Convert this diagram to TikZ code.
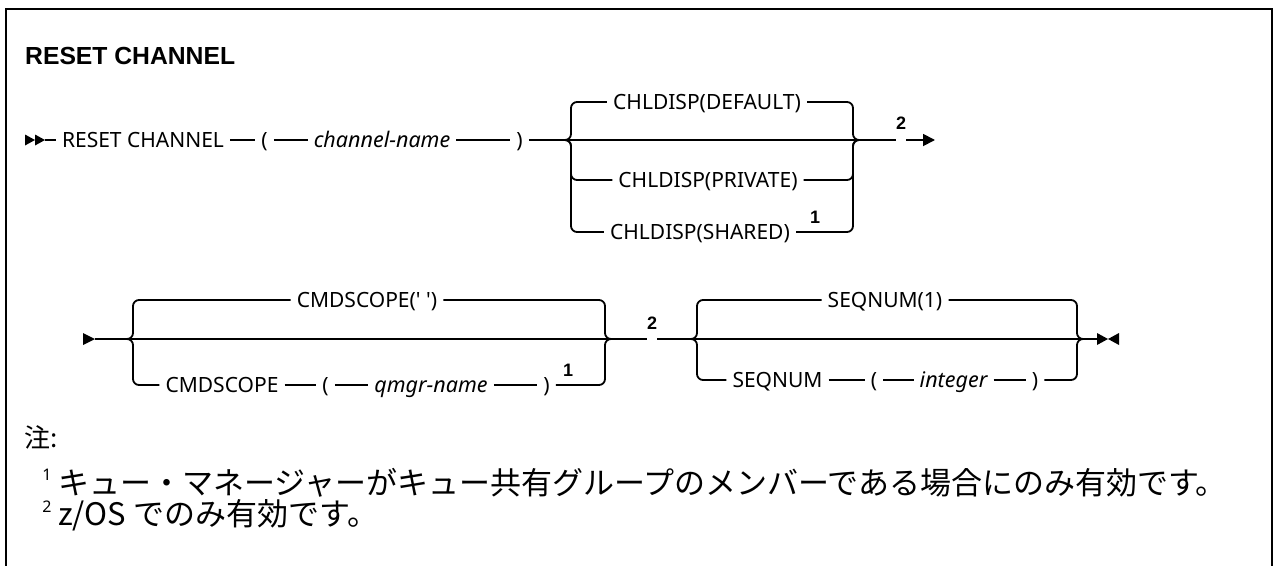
\documentclass[tikz,border=0pt]{standalone}
\usepackage{fontspec}
\setmainfont{Noto Sans}[Ligatures=TeXOff]
\newfontfamily\headfont{Liberation Sans}
\newfontfamily\jpfont{Noto Sans CJK JP}
\usetikzlibrary{arrows.meta,positioning}
\tikzset{
  tok/.style  ={font=\fontsize{21}{25}\selectfont,inner xsep=6pt,inner ysep=0pt,
                text height=15pt,text depth=0pt},
  var/.style  ={tok,font=\fontsize{21.5}{25}\selectfont\itshape},
  fn/.style   ={font=\headfont\bfseries\fontsize{18}{20}\selectfont,inner sep=0pt,
                text height=13pt,text depth=0pt},
  sup/.style  ={font=\fontsize{16}{18}\selectfont,inner sep=0pt,text height=11.5pt,text depth=0pt},
  note/.style ={font=\jpfont\fontsize{31}{34}\selectfont,anchor=west,inner sep=0pt},
  rail/.style ={line width=1.8pt},
  brace/.style={rail,rounded corners=6pt},
  arr/.style  ={rail,-{Triangle[length=12pt,width=12pt]}},
}
\begin{document}
\begin{tikzpicture}[x=1pt,y=-1pt]
  \useasboundingbox (0,0) rectangle (1274,565);
  % frame, open at the bottom
  \draw[line width=2.4pt] (6,575) -- (6,9) -- (1272,9) -- (1272,575);

  \node[font=\headfont\bfseries\fontsize{24.7}{29}\selectfont,anchor=base west,inner sep=0pt]
        (title) at (25,64) {RESET CHANNEL};

  % --- first line ---
  \fill (25,134.5) -- (35,140) -- (25,145.5) -- cycle;
  \fill (35,134.5) -- (45,140) -- (35,145.5) -- cycle;
  \coordinate (st1) at (45,140);
  \node[tok] (rc)  at (143,140)   {RESET CHANNEL};
  \node[tok] (lp1) at (264.5,140) {(};
  \node[var] (chn) at (382,140)   {channel-name};
  \node[tok] (rp1) at (519.5,140) {)};
  \draw[rail] (st1) -- (rc.west);
  \draw[rail] (rc.east) -- (lp1.west);
  \draw[rail] (lp1.east) -- (chn.west);
  \draw[rail] (chn.east) -- (rp1.west);

  \coordinate (b1l) at (565,140);
  \coordinate (b1r) at (862,140);
  \node[tok] (dflt) at (707,102) {CHLDISP(DEFAULT)};
  \node[tok] (priv) at (708,180) {CHLDISP(PRIVATE)};
  \node[tok] (shrd) at (700,232) {CHLDISP(SHARED)};
  \node[fn]  (fs1)  at (815,216.5) {1};
  \draw[rail] (rp1.east) -- (b1r);
  \draw[brace] (b1l) -| (571,102) -- (dflt.west);
  \draw[brace] (b1l) -| (571,180) -- (priv.west);
  \draw[brace] (b1l) -| (571,232) -- (shrd.west);
  \draw[brace] (dflt.east) -| (853,140) -- (b1r);
  \draw[brace] (priv.east) -| (853,140) -- (b1r);
  \draw[brace] (shrd.east) -| (853,140) -- (b1r);

  \node[fn] (fn2a) at (901,123) {2};
  \coordinate (e1) at (935,140);
  \draw[rail] (b1r) -- (b1r -| fn2a.west);
  \draw[arr] (b1r -| fn2a.east) -- (e1);

  % --- second line ---
  \fill (83,333) -- (95,339) -- (83,345) -- cycle;
  \coordinate (st2) at (95,339);
  \coordinate (b2l) at (127,339);
  \coordinate (b2r) at (612,339);
  \node[tok] (csq) at (367,300)   {CMDSCOPE(' ')};
  \node[tok] (csc) at (222,385)   {CMDSCOPE};
  \node[tok] (lp2) at (325.5,385) {(};
  \node[var] (qmn) at (431,385)   {qmgr-name};
  \node[tok] (rp2) at (546.5,385) {)};
  \node[fn]  (fq1) at (568,369.5) {1};
  \draw[rail] (st2) -- (b2r);
  \draw[brace] (b2l) -| (133,300) -- (csq.west);
  \draw[brace] (csq.east) -| (605,339) -- (b2r);
  \draw[brace] (b2l) -| (133,385) -- (csc.west);
  \draw[rail] (csc.east) -- (lp2.west);
  \draw[rail] (lp2.east) -- (qmn.west);
  \draw[rail] (qmn.east) -- (rp2.west);
  \draw[brace] (rp2.east) -| (605,339) -- (b2r);

  \node[fn] (fn2b) at (652,323) {2};
  \coordinate (b3l) at (690,339);
  \coordinate (b3r) at (1085,339);
  \draw[rail] (b2r) -- (b2r -| fn2b.west);
  \draw[rail] (b2r -| fn2b.east) -- (b3l);

  \node[tok] (sq1)  at (885,300)   {SEQNUM(1)};
  \node[tok] (sqn)  at (777.5,380) {SEQNUM};
  \node[tok] (lp3)  at (874,380)   {(};
  \node[var] (intg) at (953.5,380) {integer};
  \node[tok] (rp3)  at (1035,380)  {)};
  \coordinate (en) at (1097,339);
  \draw[rail] (b3l) -- (en);
  \draw[brace] (b3l) -| (697,300) -- (sq1.west);
  \draw[brace] (sq1.east) -| (1077,339) -- (b3r);
  \draw[brace] (b3l) -| (697,380) -- (sqn.west);
  \draw[rail] (sqn.east) -- (lp3.west);
  \draw[rail] (lp3.east) -- (intg.west);
  \draw[rail] (intg.east) -- (rp3.west);
  \draw[brace] (rp3.east) -| (1077,339) -- (b3r);
  \fill (1097,333) -- (1108,339) -- (1097,345) -- cycle;
  \fill (1119,333) -- (1108,339) -- (1119,345) -- cycle;

  % --- notes ---
  \node[note,font=\jpfont\fontsize{26}{30}\selectfont] (nt) at (24,437) {注:};
  \node[sup]  (m1) at (47,475) {1};
  \node[note] (n1) at (58,483) {キュー・マネージャーがキュー共有グループのメンバーである場合にのみ有効です。};
  \node[sup]  (m2) at (47,507) {2};
  \node[note] (n2) at (58,515) {z/OS でのみ有効です。};
\end{tikzpicture}
\end{document}
